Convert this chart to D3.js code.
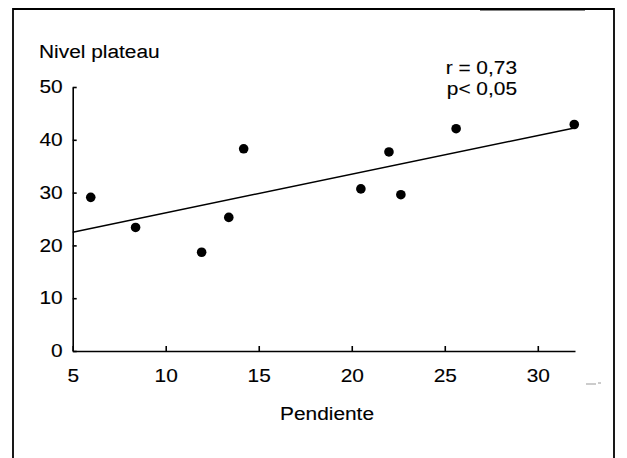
<!DOCTYPE html>
<html>
<head>
<meta charset="utf-8">
<script src="https://cdn.jsdelivr.net/npm/d3@7"></script>
<style>
  html, body { margin: 0; padding: 0; background: #fff; }
  svg { display: block; }
  text { font-family: "Liberation Sans", Arial, Helvetica, sans-serif; fill: #000; stroke: #000; stroke-width: 0.12px; }
</style>
</head>
<body>
<svg id="chart" width="627" height="458"></svg>
<script>
// ---- data ----
const xTicks = [5, 10, 15, 20, 25, 30];
const yTicks = [0, 10, 20, 30, 40, 50];
const pendiente = [5.97, 8.38, 11.93, 13.39, 14.19, 20.49, 22.0, 22.64, 25.61, 31.96];
const nivel     = [29.1, 23.4, 18.7, 25.3, 38.3, 30.7, 37.7, 29.6, 42.1, 42.9];
const fitX = [5, 31.9];
const fitY = [22.5, 42.2];
const xTitle = "Pendiente";
const yTitle = "Nivel plateau";
const statLines = ["r = 0,73", "p< 0,05"];

// ---- drawing ----
const W = 627, H = 458;
const FS = 18, SX = 1.16;
const svg = d3.select("#chart");

const x = d3.scaleLinear().domain([5, 32]).range([72.7, 575]);
const y = d3.scaleLinear().domain([0, 50]).range([351, 87]);

// frame
svg.append("path")
  .attr("d", `M13,${H} V9 H614 V${H}`)
  .attr("fill", "none").attr("stroke", "#000").attr("stroke-width", 1.8);
svg.append("line").attr("x1", 480).attr("x2", 585).attr("y1", 10.5).attr("y2", 10.5)
  .attr("stroke", "#333").attr("stroke-width", 1.2).attr("opacity", 0.6);

function place(sel, X, Y) {
  sel.attr("transform", `translate(${X},${Y}) scale(${SX},1)`);
  return sel;
}

// y axis
const gy = svg.append("g").attr("transform", `translate(${x(5)},0)`)
  .call(d3.axisLeft(y).tickValues(yTicks).tickSizeInner(-4).tickSizeOuter(0).tickPadding(10));
gy.select(".domain").attr("stroke", "#000").attr("stroke-width", 1.6);
gy.selectAll(".tick line").attr("stroke", "#000").attr("stroke-width", 1.6);
gy.selectAll(".tick text")
  .attr("font-size", FS).attr("font-family", "Liberation Sans, Arial, sans-serif")
  .attr("fill", "#000")
  .attr("x", -10 / SX).attr("transform", `scale(${SX},1)`);

// x axis
const gx = svg.append("g").attr("transform", `translate(0,${y(0)})`)
  .call(d3.axisBottom(x).tickValues(xTicks).tickSizeInner(-5).tickSizeOuter(0).tickPadding(18));
gx.select(".domain").attr("stroke", "#000").attr("stroke-width", 1.6);
gx.selectAll(".tick line").attr("stroke", "#000").attr("stroke-width", 1.6);
gx.selectAll(".tick text")
  .attr("font-size", FS).attr("font-family", "Liberation Sans, Arial, sans-serif")
  .attr("fill", "#000")
  .attr("transform", `scale(${SX},1)`);

// regression line
svg.append("line")
  .attr("x1", x(fitX[0])).attr("y1", y(fitY[0]))
  .attr("x2", x(fitX[1])).attr("y2", y(fitY[1]))
  .attr("stroke", "#000").attr("stroke-width", 1.5);

// points
svg.append("g").selectAll("circle")
  .data(pendiente.map((p, i) => [p, nivel[i]]))
  .join("circle")
  .attr("cx", d => x(d[0])).attr("cy", d => y(d[1]))
  .attr("r", 4.8).attr("fill", "#000");

// titles
place(svg.append("text").text(yTitle).attr("font-size", FS), 39, 58);
place(svg.append("text").text(xTitle).attr("font-size", FS).attr("text-anchor", "middle"), 327, 420);
statLines.forEach((s, i) => {
  place(svg.append("text").text(s).attr("font-size", FS).attr("text-anchor", "end"), 517, 73.5 + i * 21.5);
});

// small scan mark right of the axis end
svg.append("path").attr("d", "M586,384 H596 M598,383 H601")
  .attr("stroke", "#999").attr("stroke-width", 1).attr("fill", "none");
</script>
</body>
</html>
